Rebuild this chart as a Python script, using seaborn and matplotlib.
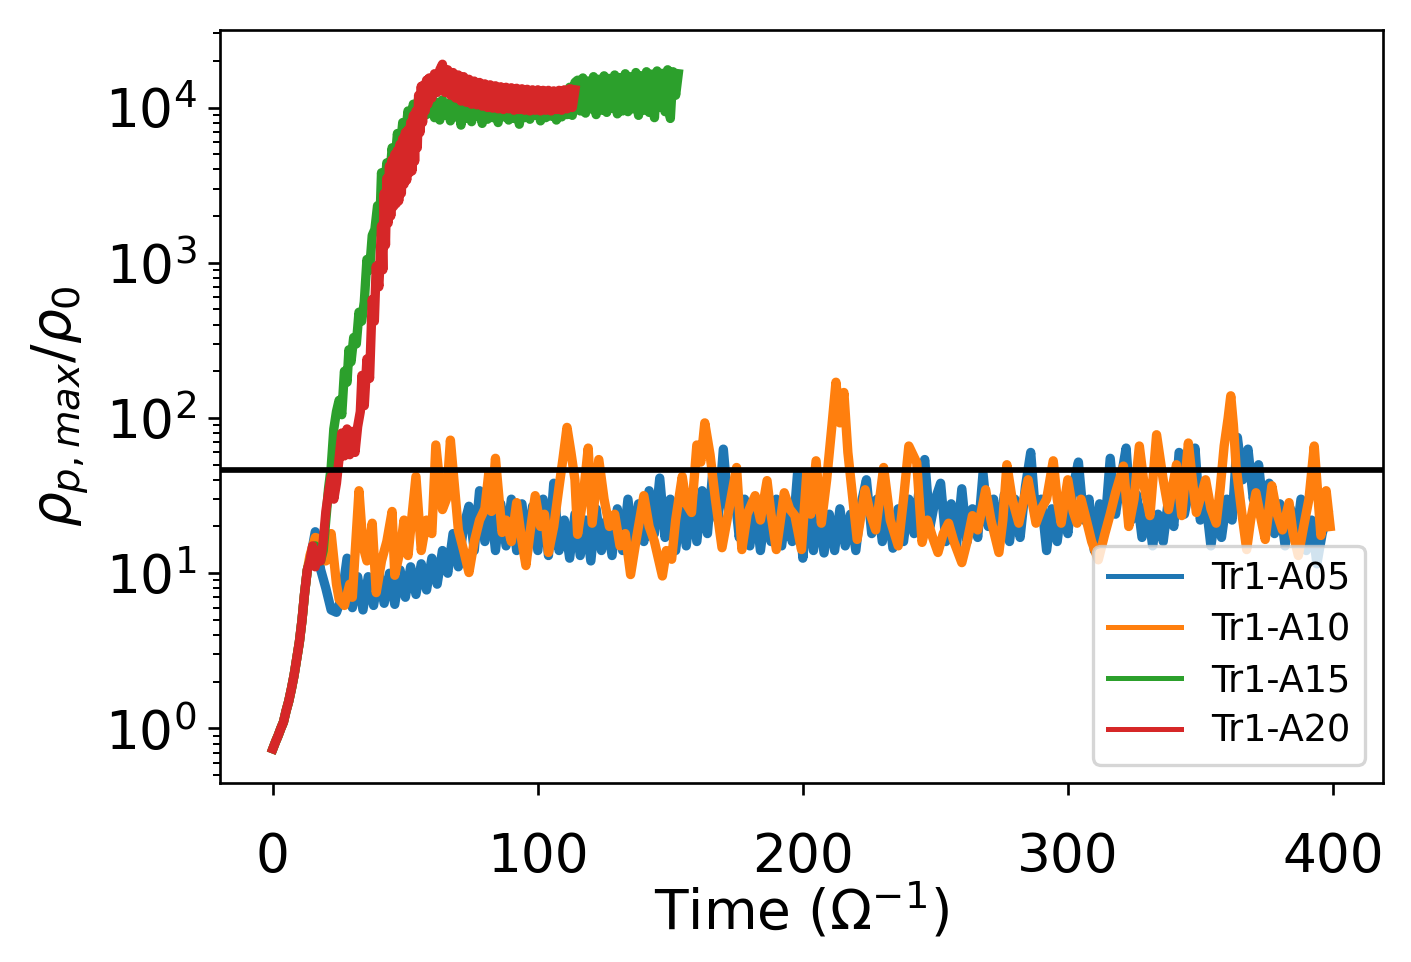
import numpy as np
import pandas as pd
import matplotlib
matplotlib.use("Agg")
import matplotlib.pyplot as plt
import seaborn as sns

# Values (time in 1/Omega, rho_p,max / rho_0)

# early growth phase, shared by all four runs
early_t = [0, 1, 2, 3, 4, 5, 6, 7, 8, 9, 10, 11, 12, 13]
early_v = [0.74, 0.82, 0.9, 1.0, 1.1, 1.3, 1.5, 1.8, 2.2, 2.8, 3.6, 5.0, 7.5, 10.5]

# Tr1-A05 : sampled every 2 time units from t=14 (alternating band top / bottom)
a05_t0 = 14
a05_v = [12, 18.5, 10.6, 8, 5.8, 5.6, 7, 12.5, 6, 9.5,
         5.8, 9.5, 6.2, 10, 6.4, 10, 6.3, 10.5, 7, 11,
         7.3, 11.5, 7.8, 12.5, 8.5, 14, 10, 18, 11, 20,
         27, 14, 34, 16, 30, 14, 28, 15, 30, 14,
         28, 13.5, 27, 14, 30, 13, 38, 14, 22, 12.5,
         24, 13, 22, 12, 26, 14, 22, 13, 26, 14,
         30, 15, 28, 16, 34, 18, 41, 17, 30, 14,
         28, 15, 30, 16, 34, 18, 45, 22, 63, 25,
         36, 17, 30, 15, 28, 14, 26, 16, 30, 15,
         28, 16, 44, 12.5, 30, 14, 26, 13.5, 24, 14,
         26, 15, 24, 14, 28, 40, 18, 30, 16, 28,
         14.5, 26, 16, 30, 18, 36, 54, 20, 30, 38,
         16, 28, 15, 35, 16, 26, 17, 44, 20, 30,
         15, 32, 16, 30, 17, 36, 60, 22, 30, 14,
         26, 16, 30, 18, 36, 52, 22, 30, 14, 28,
         20, 55, 24, 40, 64, 22, 32, 17, 28, 15,
         24, 16, 30, 20, 60, 24, 36, 64, 22, 30,
         15, 26, 17, 30, 22, 75, 40, 63, 30, 50,
         24, 38, 18, 28, 15, 26, 16, 30, 14, 22,
         11.5, 18, 24]

# Tr1-A10 : peaks and troughs
a10_t = [14, 16, 18, 20, 22, 24, 25, 27, 29, 30,
         32.5, 34, 35.5, 37.5, 39, 41, 43, 45, 46, 48,
         49.5, 51, 54, 56, 58, 60, 61.5, 64, 65.5, 67,
         70, 72, 74, 76, 78, 80, 81.5, 82.5, 84, 86.5,
         88, 90, 92, 94, 95.5, 97, 99, 101, 102.5, 104,
         106, 108, 109.5, 111, 112.5, 114, 115, 117, 119, 120.5,
         123, 125, 127, 129, 131, 133, 135, 137, 140, 142,
         144, 147, 148.5, 150.5, 152, 154.5, 156, 158, 160, 161.5,
         163, 165, 167, 169.5, 172, 175, 177, 179, 182, 184,
         186.5, 188, 190, 193, 195, 197, 199.5, 201.5, 203, 205,
         207, 209, 211, 212.5, 214, 215.5, 217, 218.5, 220.5, 223.5,
         225.5, 227.5, 230.5, 233, 236, 238, 240, 243, 245, 247,
         249, 251, 253, 255, 257, 260, 262, 264, 266, 269,
         271, 274, 275.5, 277, 279, 281.5, 285, 288, 290, 292,
         294.5, 296, 297.5, 300, 302, 303.5, 305, 307, 309, 311.5,
         314, 316, 318, 321, 323, 325, 327, 329, 331, 333.5,
         336, 338, 341, 343, 345.5, 347, 348.5, 352, 354, 356,
         357.5, 359, 360.5, 361.5, 362.5, 363.5, 365.5, 367.5, 369, 371,
         373, 374.5, 377, 379, 381, 383.5, 385, 387, 389, 391,
         393, 394.5, 395.5, 397.5, 399]
a10_v = [13, 17, 16.5, 12, 18, 8.5, 6.8, 6.2, 8.5, 7,
         34, 15, 12, 21, 7.5, 12, 16, 25, 9.7, 14,
         22, 13, 42, 14, 22, 18, 67, 25.7, 30, 72,
         19, 14, 10.1, 16, 22, 26, 44.5, 25, 55, 18.3,
         22, 16, 28.5, 16, 11.2, 18, 31.6, 20, 24, 13.6,
         20, 36, 55, 87, 60, 40, 17.8, 30, 64, 21,
         54, 30, 20, 24, 15, 18, 9.8, 16, 31.6, 20,
         16, 9.6, 14, 12.3, 22, 42, 28, 24.6, 67, 52,
         93, 58, 30, 14.6, 25, 48, 14.2, 24, 31.6, 22,
         39.5, 24, 14.2, 33, 26, 23.5, 14.2, 44.5, 24, 53,
         21, 40, 90, 170, 93, 146, 60, 34.5, 16.5, 34.5,
         24, 19, 48, 22, 15, 30, 66, 51.5, 15.8, 22,
         17, 13.6, 18, 21, 16, 11.7, 16, 23.5, 19, 34.5,
         22, 13.6, 22, 50, 30, 21, 40, 21, 26, 30,
         53, 30, 21, 40, 25, 21, 30, 22, 16, 12.2,
         18, 24, 33, 49, 20, 30, 66, 35, 23.5, 78,
         40, 25.7, 50, 23.5, 69, 40, 24.6, 40, 26, 21,
         35, 66, 100, 139, 90, 49, 25.7, 14.2, 22, 33,
         22, 16.5, 36.6, 24, 19, 28.5, 18, 13, 20, 30,
         66, 30, 17.5, 34, 20]

# Tr1-A15 : fast growth, then saturated band
a15_t = [14, 15, 16, 17, 18, 19, 20, 21, 22, 23,
         24, 25, 26, 27, 28, 28.7, 29.5, 30.5, 31.5, 32.5,
         33.5, 34.5, 35.5, 36.5, 37.5, 38.5, 39.5, 40.5, 41, 42,
         43, 44, 45, 46, 47, 48, 49, 50, 51, 52,
         53, 54, 55, 56, 57, 58, 59]
a15_v = [12, 14, 15, 13, 12, 14, 22, 35, 48, 85,
         110, 130, 105, 200, 170, 275, 230, 330, 300, 480,
         420, 560, 1050, 900, 1500, 1640, 2330, 2100, 3800, 2600,
         4400, 3300, 5500, 4200, 6800, 5200, 8000, 6500, 9500, 7600,
         10500, 8200, 11500, 8800, 12500, 9000, 12000]
a15_plateau_t0 = 60
a15_plateau = [11500, 8600, 10800, 8300, 11200, 8900, 10600, 8200, 11000, 8700,
               10400, 7700, 10900, 8500, 11300, 8100, 10500, 8800, 11000, 7900,
               10700, 8400, 11200, 8600, 10300, 8000, 10900, 8700, 11100, 8300,
               10600, 8500, 11000, 7800, 10800, 8600, 11300, 8400, 10500, 8900,
               11000, 8200, 10700, 8600, 11200, 8800, 10400, 8300, 11000, 8700,
               12500, 9000, 13500, 8900, 14500]
a15_late_t0 = 115
a15_late = [15000, 9500, 15500, 9200, 14800, 9800, 15800, 9000, 15200, 9600,
            16000, 9300, 15400, 9900, 16200, 9100, 15600, 9500, 16500, 9400,
            15800, 9800, 16800, 8900, 16000, 9600, 17000, 9300, 16400, 8600,
            17200, 10000, 16600, 9400, 17500, 8500, 17000, 12000, 16500]

# Tr1-A20
a20_t = [14, 15, 16, 17, 18, 19, 20, 21, 22, 23,
         24, 25, 26, 27, 28, 29, 30, 31, 32, 33,
         33.6, 34.5, 35.5, 36.5, 37.5, 38.3, 39, 40, 41, 41.5,
         42, 42.5, 43, 43.5, 44, 44.5, 45, 45.5, 46, 46.5,
         47, 47.5, 48, 48.5, 49, 49.5, 50, 50.5, 51, 51.5,
         52, 52.5, 53, 53.5, 54, 54.5, 55, 55.5, 56, 56.5,
         57, 57.5, 58, 58.5, 59, 60, 61, 62, 63, 64]
a20_v = [12, 15, 11, 14, 12, 16, 25, 33, 42, 30,
         38, 55, 80, 57, 85, 58, 82, 60, 88, 110,
         188, 120, 240, 180, 580, 420, 950, 700, 1730, 900,
         2800, 1300, 3500, 1800, 4200, 2000, 4600, 2300, 5000, 2400,
         5300, 2500, 5800, 2800, 6300, 3200, 6900, 3400, 7200, 3800,
         8000, 3900, 8900, 4500, 9500, 5500, 12000, 6900, 13700, 8000,
         14000, 9500, 15000, 10500, 15500, 11500, 16500, 12500, 17500, 19000]
a20_plateau_t0 = 65
a20_plateau = [12500, 17500, 12000, 16800, 11500, 16200, 11000, 15800, 10800, 15200,
               10500, 14800, 10400, 14500, 10200, 14200, 10000, 14000, 9900, 13800,
               9800, 13600, 9700, 13500, 9800, 13400, 9600, 13300, 9700, 13200,
               9600, 13100, 9500, 13000, 9600, 13000, 9500, 12900, 9600, 12900,
               9500, 12800, 9700, 12900, 9600, 13000, 9800, 13200, 10000, 13000]

threshold = 46

runs = ["Tr1-A05", "Tr1-A10", "Tr1-A15", "Tr1-A20"]
colors = ["#1f77b4", "#ff7f0e", "#2ca02c", "#d62728"]

# assemble the series
t05 = early_t + list(a05_t0 + 2 * np.arange(len(a05_v)))
v05 = early_v + a05_v
t10 = early_t + a10_t
v10 = early_v + a10_v
t15 = (early_t + a15_t + list(a15_plateau_t0 + np.arange(len(a15_plateau)))
       + list(a15_late_t0 + np.arange(len(a15_late))))
v15 = early_v + a15_v + a15_plateau + a15_late
t20 = early_t + a20_t + list(a20_plateau_t0 + np.arange(len(a20_plateau)))
v20 = early_v + a20_v + a20_plateau

frames = []
for name, tt, vv in zip(runs, [t05, t10, t15, t20], [v05, v10, v15, v20]):
    frames.append(pd.DataFrame({"time": np.asarray(tt, dtype=float),
                                "rho": np.asarray(vv, dtype=float),
                                "run": name}))
df = pd.concat(frames, ignore_index=True)

fig = plt.figure(figsize=(1411 / 240, 962 / 240), dpi=240)
ax = fig.add_axes([220 / 1411, 1 - 783 / 962, (1383 - 220) / 1411, (783 - 30) / 962])

# thick lines: the simulated signal is very noisy, so the traces look like bands
sns.lineplot(data=df, x="time", y="rho", hue="run", hue_order=runs, palette=colors,
             estimator=None, sort=False, linewidth=2.8, ax=ax)
ax.axhline(threshold, color="black", linewidth=1.7)

ax.set_yscale("log")
ax.set_xlabel(r"Time ($\Omega^{-1}$)", fontsize=16.5, labelpad=-1)
ax.set_ylabel(r"$\rho_{p,max}/\rho_0$", fontsize=16.5)
ax.tick_params(axis="both", which="major", labelsize=16)
ax.tick_params(axis="x", which="major", pad=11)

handles, labels = ax.get_legend_handles_labels()
leg = ax.legend(handles, labels, loc="lower right", fontsize=11, labelspacing=0.38)
for line in leg.get_lines():
    line.set_linewidth(1.5)

fig.savefig("out.png", dpi=240)
